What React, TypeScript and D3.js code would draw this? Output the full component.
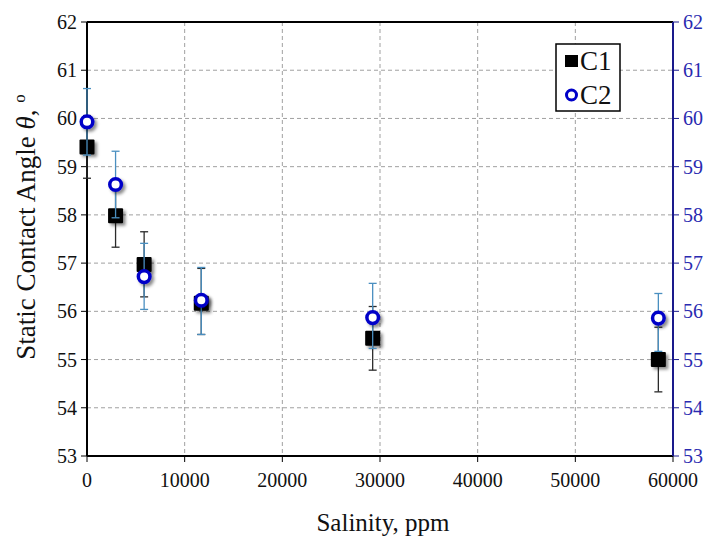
import React from "react";
import * as d3 from "d3";

const salinity = [0, 2925, 5850, 11700, 29250, 58500];
const c1Values = [59.41, 57.98, 56.97, 56.17, 55.44, 55.0];
const c1ErrPlus = [0.65, 0.65, 0.68, 0.72, 0.66, 0.67];
const c1ErrMinus = [0.65, 0.65, 0.67, 0.65, 0.66, 0.67];
const c2Values = [59.93, 58.63, 56.72, 56.23, 55.87, 55.86];
const c2ErrPlus = [0.69, 0.69, 0.69, 0.68, 0.71, 0.51];
const c2ErrMinus = [0.69, 0.69, 0.68, 0.71, 0.64, 0.69];
const xTicks = [0, 10000, 20000, 30000, 40000, 50000, 60000];
const yTicks = [53, 54, 55, 56, 57, 58, 59, 60, 61, 62];
const seriesNames = ["C1", "C2"];

const W = 715;
const H = 551;
const L = 87, R = 673, T = 22, B = 456;
const FONT = "Liberation Serif, Times New Roman, serif";
const BLUE_AXIS = "#1a1a8c";
const BLUE_TXT = "#2a2ab0";

export default function App() {
  const x = d3.scaleLinear().domain([0, 60000]).range([L, R]);
  const y = d3.scaleLinear().domain([53, 62]).range([B, T]);

  const errBars = (vals: number[], plus: number[], minus: number[], color: string, key: string) =>
    vals.map((v, i) => {
      const cx = x(salinity[i]);
      const y1 = y(v + plus[i]);
      const y2 = y(v - minus[i]);
      return (
        <g key={key + i} stroke={color} strokeWidth={1.3}>
          <line x1={cx} x2={cx} y1={y1} y2={y2} />
          <line x1={cx - 4} x2={cx + 4} y1={y1} y2={y1} />
          <line x1={cx - 4} x2={cx + 4} y1={y2} y2={y2} />
        </g>
      );
    });

  return (
    <svg width={W} height={H} style={{ position: "absolute", left: 0, top: 0, background: "#fff", fontFamily: FONT }}>
      <defs>
        <filter id="shadow" x="-50%" y="-50%" width="200%" height="200%">
          <feDropShadow dx="2.5" dy="2.5" stdDeviation="1.6" floodColor="#000" floodOpacity="0.45" />
        </filter>
      </defs>
      <rect x={0} y={0} width={W} height={H} fill="#fff" />
      {/* grid */}
      {xTicks.slice(1, -1).map((t) => (
        <line key={"gx" + t} x1={x(t)} x2={x(t)} y1={T} y2={B} stroke="#a0a0a0" strokeDasharray="4,3" strokeWidth={1} />
      ))}
      {yTicks.slice(1, -1).map((t) => (
        <line key={"gy" + t} x1={L} x2={R} y1={y(t)} y2={y(t)} stroke="#a0a0a0" strokeDasharray="4,3" strokeWidth={1} />
      ))}
      {/* axes frame */}
      <line x1={L} x2={R} y1={T} y2={T} stroke="#000" strokeWidth={2} />
      <line x1={L} x2={R} y1={B} y2={B} stroke="#000" strokeWidth={2} />
      <line x1={L} x2={L} y1={T} y2={B} stroke="#000" strokeWidth={2} />
      <line x1={R} x2={R} y1={T} y2={B} stroke={BLUE_AXIS} strokeWidth={2} />
      {/* left ticks */}
      {yTicks.map((t) => (
        <g key={"ly" + t}>
          <line x1={L - 6} x2={L} y1={y(t)} y2={y(t)} stroke="#000" strokeWidth={1} />
          <text x={L - 10} y={y(t)} dy="0.35em" textAnchor="end" fontSize={20} fill="#111" style={{ fontFamily: FONT }}>{t}</text>
        </g>
      ))}
      {/* right ticks */}
      {yTicks.map((t) => (
        <g key={"ry" + t}>
          <line x1={R} x2={R + 6} y1={y(t)} y2={y(t)} stroke={BLUE_AXIS} strokeWidth={1} />
          <text x={R + 10} y={y(t)} dy="0.35em" textAnchor="start" fontSize={20} fill={BLUE_TXT} style={{ fontFamily: FONT }}>{t}</text>
        </g>
      ))}
      {/* bottom ticks */}
      {xTicks.map((t) => (
        <g key={"bx" + t}>
          <line x1={x(t)} x2={x(t)} y1={B} y2={B + 6} stroke="#000" strokeWidth={1} />
          <text x={x(t)} y={B + 31} textAnchor="middle" fontSize={20} fill="#111" style={{ fontFamily: FONT }}>{t}</text>
        </g>
      ))}
      {/* titles */}
      <text x={(L + R) / 2 + 3} y={531} textAnchor="middle" fontSize={25} fill="#111" style={{ fontFamily: FONT }}>Salinity, ppm</text>
      <text transform={`translate(35, 227) rotate(-90)`} textAnchor="middle" fontSize={27} fill="#111" style={{ fontFamily: FONT }}>
        Static Contact Angle <tspan fontStyle="italic">θ</tspan>, <tspan fontSize={17} dy="-10">o</tspan>
      </text>
      {/* series */}
      {errBars(c1Values, c1ErrPlus, c1ErrMinus, "#2b2b2b", "e1")}
      <g filter="url(#shadow)">
        {c1Values.map((v, i) => (
          <rect key={"m1" + i} x={x(salinity[i]) - 7.5} y={y(v) - 7.5} width={15} height={15} fill="#000" rx={1} />
        ))}
      </g>
      {errBars(c2Values, c2ErrPlus, c2ErrMinus, "#4a8fc0", "e2")}
      <g filter="url(#shadow)">
        {c2Values.map((v, i) => (
          <circle key={"m2" + i} cx={x(salinity[i])} cy={y(v)} r={5.8} fill="#fff" stroke="#0000c8" strokeWidth={3.5} />
        ))}
      </g>
      {/* legend */}
      <rect x={556} y={44} width={64} height={67} fill="#fff" stroke="#000" strokeWidth={1.5} />
      <rect x={565} y={55} width={13} height={12} fill="#000" />
      <text x={580} y={70} fontSize={27} fill="#111" style={{ fontFamily: FONT }}>{seriesNames[0]}</text>
      <circle cx={571.5} cy={95} r={5} fill="#fff" stroke="#0000c8" strokeWidth={3} />
      <text x={580} y={104} fontSize={27} fill="#111" style={{ fontFamily: FONT }}>{seriesNames[1]}</text>
    </svg>
  );
}
